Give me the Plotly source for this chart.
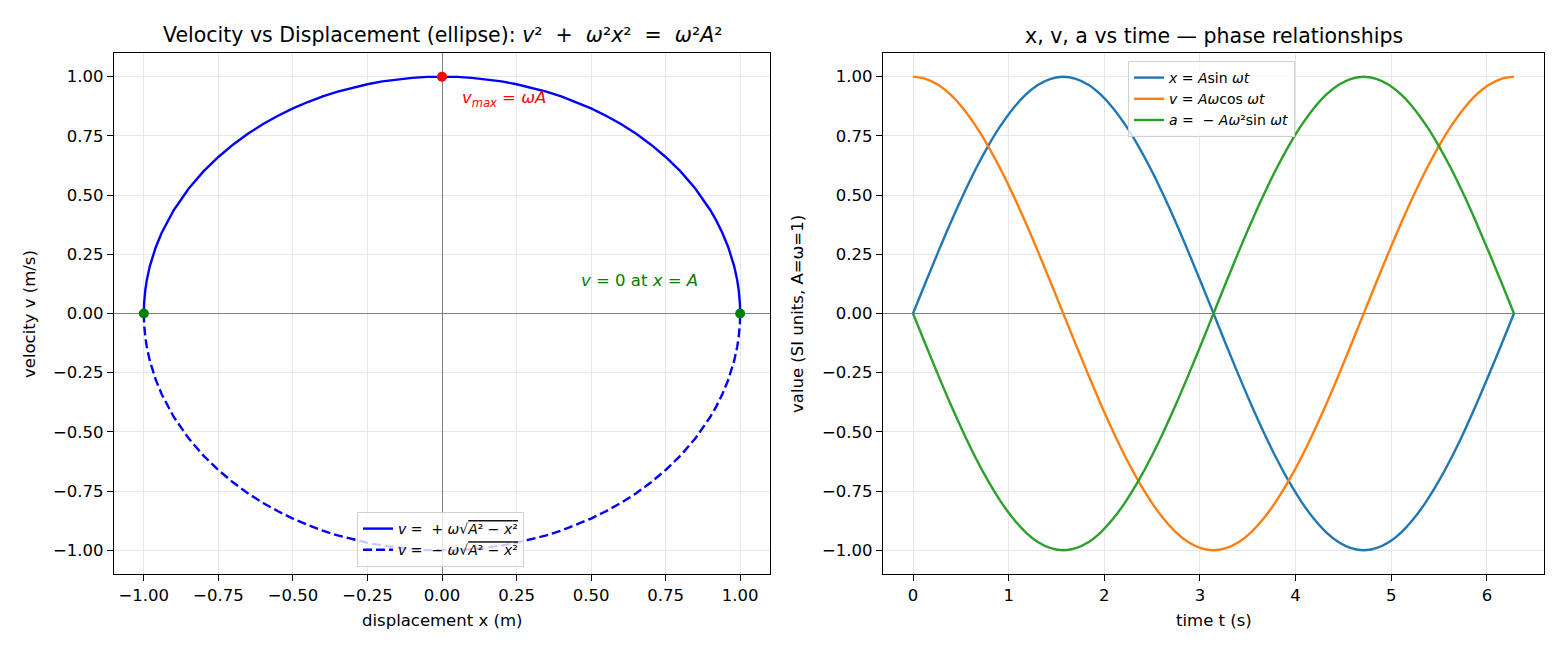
import plotly.graph_objects as go

# ---------------- data ----------------
# Left panel: velocity vs displacement (upper and lower halves of the ellipse)
disp_x = [-1.000, -0.999, -0.995, -0.990, -0.980, -0.960, -0.940, -0.920, -0.900, -0.850,
          -0.800, -0.750, -0.700, -0.650, -0.600, -0.550, -0.500, -0.450, -0.400, -0.350,
          -0.300, -0.250, -0.200, -0.150, -0.100, -0.050, 0.000, 0.050, 0.100, 0.150,
          0.200, 0.250, 0.300, 0.350, 0.400, 0.450, 0.500, 0.550, 0.600, 0.650,
          0.700, 0.750, 0.800, 0.850, 0.900, 0.920, 0.940, 0.960, 0.980, 0.990,
          0.995, 0.999, 1.000]
vel_upper = [0.000, 0.045, 0.100, 0.141, 0.199, 0.280, 0.341, 0.392, 0.436, 0.527,
             0.600, 0.661, 0.714, 0.760, 0.800, 0.835, 0.866, 0.893, 0.917, 0.937,
             0.954, 0.968, 0.980, 0.989, 0.995, 0.999, 1.000, 0.999, 0.995, 0.989,
             0.980, 0.968, 0.954, 0.937, 0.917, 0.893, 0.866, 0.835, 0.800, 0.760,
             0.714, 0.661, 0.600, 0.527, 0.436, 0.392, 0.341, 0.280, 0.199, 0.141,
             0.100, 0.045, 0.000]
vel_lower = [0.000, -0.045, -0.100, -0.141, -0.199, -0.280, -0.341, -0.392, -0.436, -0.527,
             -0.600, -0.661, -0.714, -0.760, -0.800, -0.835, -0.866, -0.893, -0.917, -0.937,
             -0.954, -0.968, -0.980, -0.989, -0.995, -0.999, -1.000, -0.999, -0.995, -0.989,
             -0.980, -0.968, -0.954, -0.937, -0.917, -0.893, -0.866, -0.835, -0.800, -0.760,
             -0.714, -0.661, -0.600, -0.527, -0.436, -0.392, -0.341, -0.280, -0.199, -0.141,
             -0.100, -0.045, 0.000]
vmax_x = [0.0]
vmax_v = [1.0]
v0_x = [-1.0, 1.0]
v0_v = [0.0, 0.0]

# Right panel: x, v, a vs time
t_vals = [0.000, 0.131, 0.262, 0.393, 0.524, 0.654, 0.785, 0.916, 1.047, 1.178, 1.309, 1.440,
          1.571, 1.702, 1.833, 1.963, 2.094, 2.225, 2.356, 2.487, 2.618, 2.749, 2.880, 3.011,
          3.142, 3.272, 3.403, 3.534, 3.665, 3.796, 3.927, 4.058, 4.189, 4.320, 4.451, 4.581,
          4.712, 4.843, 4.974, 5.105, 5.236, 5.367, 5.498, 5.629, 5.760, 5.890, 6.021, 6.152,
          6.283]
x_vals = [0.000, 0.131, 0.259, 0.383, 0.500, 0.609, 0.707, 0.793, 0.866, 0.924, 0.966, 0.991,
          1.000, 0.991, 0.966, 0.924, 0.866, 0.793, 0.707, 0.609, 0.500, 0.383, 0.259, 0.131,
          0.000, -0.131, -0.259, -0.383, -0.500, -0.609, -0.707, -0.793, -0.866, -0.924, -0.966, -0.991,
          -1.000, -0.991, -0.966, -0.924, -0.866, -0.793, -0.707, -0.609, -0.500, -0.383, -0.259, -0.131,
          0.000]
v_vals = [1.000, 0.991, 0.966, 0.924, 0.866, 0.793, 0.707, 0.609, 0.500, 0.383, 0.259, 0.131,
          0.000, -0.131, -0.259, -0.383, -0.500, -0.609, -0.707, -0.793, -0.866, -0.924, -0.966, -0.991,
          -1.000, -0.991, -0.966, -0.924, -0.866, -0.793, -0.707, -0.609, -0.500, -0.383, -0.259, -0.131,
          0.000, 0.131, 0.259, 0.383, 0.500, 0.609, 0.707, 0.793, 0.866, 0.924, 0.966, 0.991,
          1.000]
a_vals = [0.000, -0.131, -0.259, -0.383, -0.500, -0.609, -0.707, -0.793, -0.866, -0.924, -0.966, -0.991,
          -1.000, -0.991, -0.966, -0.924, -0.866, -0.793, -0.707, -0.609, -0.500, -0.383, -0.259, -0.131,
          0.000, 0.131, 0.259, 0.383, 0.500, 0.609, 0.707, 0.793, 0.866, 0.924, 0.966, 0.991,
          1.000, 0.991, 0.966, 0.924, 0.866, 0.793, 0.707, 0.609, 0.500, 0.383, 0.259, 0.131,
          0.000]

left_xticks = [-1.0, -0.75, -0.5, -0.25, 0.0, 0.25, 0.5, 0.75, 1.0]
yticks = [-1.0, -0.75, -0.5, -0.25, 0.0, 0.25, 0.5, 0.75, 1.0]
right_xticks = [0, 1, 2, 3, 4, 5, 6]

# ---------------- figure ----------------
FONT = "DejaVu Sans"
TICK = 16.5
LABEL = 16.5
LW = 2.4
fig = go.Figure()

fig.add_trace(go.Scatter(x=disp_x, y=vel_upper, mode="lines", line=dict(color="#0000ff", width=LW),
                         name="<i>v</i> =  + <i>ω</i>√<span style='text-decoration:overline'><i>A</i>² − <i>x</i>²</span>",
                         xaxis="x", yaxis="y", legend="legend"))
fig.add_trace(go.Scatter(x=disp_x, y=vel_lower, mode="lines",
                         line=dict(color="#0000ff", width=LW, dash="9px,4px"),
                         name="<i>v</i> =  − <i>ω</i>√<span style='text-decoration:overline'><i>A</i>² − <i>x</i>²</span>",
                         xaxis="x", yaxis="y", legend="legend"))
fig.add_trace(go.Scatter(x=vmax_x, y=vmax_v, mode="markers",
                         marker=dict(color="#ff0000", size=10), showlegend=False, xaxis="x", yaxis="y"))
fig.add_trace(go.Scatter(x=v0_x, y=v0_v, mode="markers",
                         marker=dict(color="#008000", size=10), showlegend=False, xaxis="x", yaxis="y"))

fig.add_trace(go.Scatter(x=t_vals, y=x_vals, mode="lines",
                         line=dict(color="#1f77b4", width=LW, shape="spline", smoothing=1),
                         name="<i>x</i> = <i>A</i>sin <i>ωt</i>", xaxis="x2", yaxis="y2", legend="legend2"))
fig.add_trace(go.Scatter(x=t_vals, y=v_vals, mode="lines",
                         line=dict(color="#ff7f0e", width=LW, shape="spline", smoothing=1),
                         name="<i>v</i> = <i>Aω</i>cos <i>ωt</i>", xaxis="x2", yaxis="y2", legend="legend2"))
fig.add_trace(go.Scatter(x=t_vals, y=a_vals, mode="lines",
                         line=dict(color="#2ca02c", width=LW, shape="spline", smoothing=1),
                         name="<i>a</i> =  − <i>Aω</i>²sin <i>ωt</i>", xaxis="x2", yaxis="y2", legend="legend2"))


def fmt(v):
    return f"{v:.2f}".replace("-", "−")


axis_common = dict(showline=True, mirror=True, linecolor="black", linewidth=1.2,
                   ticks="outside", ticklen=6, tickcolor="black", tickwidth=1.2,
                   showgrid=True, gridcolor="#e6e6e6", gridwidth=1,
                   tickfont=dict(family=FONT, size=TICK, color="black"),
                   zerolinecolor="#808080", zerolinewidth=1)

y_top = (650 - 53) / 650
y_bot = (650 - 574) / 650
L0, L1 = 114 / 1560, 770 / 1560
R0, R1 = 883 / 1560, 1544 / 1560

legend_common = dict(bgcolor="rgba(255,255,255,0.8)", bordercolor="#d0d0d0", borderwidth=1,
                     font=dict(family=FONT, size=14, color="black"), tracegroupgap=0, itemwidth=30)

fig.update_layout(
    width=1560, height=650, margin=dict(l=0, r=0, t=0, b=0),
    plot_bgcolor="white", paper_bgcolor="white",
    font=dict(family=FONT, color="black"),
    xaxis=dict(domain=[L0, L1], range=[-1.1, 1.1], anchor="y", zeroline=True,
               tickvals=left_xticks, ticktext=[fmt(v) for v in left_xticks], **axis_common),
    yaxis=dict(domain=[y_bot, y_top], range=[-1.1, 1.1], anchor="x", zeroline=True,
               tickvals=yticks, ticktext=[fmt(v) for v in yticks], **axis_common),
    xaxis2=dict(domain=[R0, R1], range=[-0.314, 6.597], anchor="y2", zeroline=False,
                tickvals=right_xticks, ticktext=[str(v) for v in right_xticks], **axis_common),
    yaxis2=dict(domain=[y_bot, y_top], range=[-1.1, 1.1], anchor="x2", zeroline=True,
                tickvals=yticks, ticktext=[fmt(v) for v in yticks], **axis_common),
    legend=dict(x=(353 + 528) / 2 / 1560, y=(650 - 567) / 650, xanchor="center", yanchor="bottom",
                **legend_common),
    legend2=dict(x=(1127 + 1296) / 2 / 1560, y=(650 - 61) / 650, xanchor="center", yanchor="top",
                 **legend_common),
    showlegend=True,
)

# text annotations in data space
fig.add_annotation(x=0.062, y=0.905, xref="x", yref="y", xanchor="left", yanchor="middle", showarrow=False,
                   text="<i>v</i><span style='font-size:11.5px;baseline-shift:-4px'><i>max</i></span> = <i>ωA</i>",
                   font=dict(family=FONT, size=LABEL, color="#ff0000"))
fig.add_annotation(x=0.46, y=0.14, xref="x", yref="y", xanchor="left", yanchor="middle", showarrow=False,
                   text="<i>v</i> = 0 at <i>x</i> = <i>A</i>", font=dict(family=FONT, size=LABEL, color="#008000"))

# titles
fig.add_annotation(x=(L0 + L1) / 2, y=(650 - 35) / 650, xref="paper", yref="paper", showarrow=False,
                   xanchor="center", yanchor="middle",
                   text="Velocity vs Displacement (ellipse): <i>v</i>²  +  <i>ω</i>²<i>x</i>²  =  <i>ω</i>²<i>A</i>²",
                   font=dict(family=FONT, size=20.5, color="black"))
fig.add_annotation(x=(R0 + R1) / 2, y=(650 - 36) / 650, xref="paper", yref="paper", showarrow=False,
                   xanchor="center", yanchor="middle",
                   text="x, v, a vs time — phase relationships",
                   font=dict(family=FONT, size=20.5, color="black"))

# axis labels
fig.add_annotation(x=(L0 + L1) / 2, y=(650 - 620) / 650, xref="paper", yref="paper", showarrow=False,
                   xanchor="center", yanchor="middle",
                   text="displacement x (m)", font=dict(family=FONT, size=LABEL, color="black"))
fig.add_annotation(x=(R0 + R1) / 2, y=(650 - 620) / 650, xref="paper", yref="paper", showarrow=False,
                   xanchor="center", yanchor="middle",
                   text="time t (s)", font=dict(family=FONT, size=LABEL, color="black"))
fig.add_annotation(x=29 / 1560, y=(650 - 314) / 650, xref="paper", yref="paper", showarrow=False,
                   xanchor="center", yanchor="middle",
                   textangle=-90, text="velocity v (m/s)", font=dict(family=FONT, size=LABEL, color="black"))
fig.add_annotation(x=797 / 1560, y=(650 - 314) / 650, xref="paper", yref="paper", showarrow=False,
                   xanchor="center", yanchor="middle",
                   textangle=-90, text="value (SI units, A=ω=1)", font=dict(family=FONT, size=LABEL, color="black"))

fig.write_html("out.html")
